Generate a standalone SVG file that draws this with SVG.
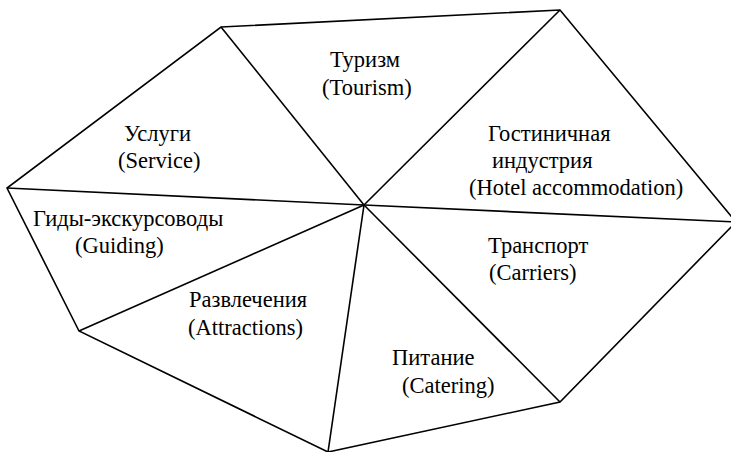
<svg xmlns="http://www.w3.org/2000/svg" width="731" height="452" viewBox="0 0 731 452">
<style>
.e{stroke:#000;stroke-width:1.6;fill:none;stroke-linejoin:miter}
.t text{font-size:22.5px;fill:#000}
</style>
<rect width="731" height="452" fill="#fff"/>
<g id="connectors">
<polygon class="e" points="221,27 560,10 736,222 560,402 328,452 79,331 7,188"/>
<line class="e" x1="364" y1="205" x2="221" y2="27"/>
<line class="e" x1="364" y1="205" x2="560" y2="10"/>
<line class="e" x1="364" y1="205" x2="736" y2="222"/>
<line class="e" x1="364" y1="205" x2="560" y2="402"/>
<line class="e" x1="364" y1="205" x2="328" y2="452"/>
<line class="e" x1="364" y1="205" x2="79" y2="331"/>
<line class="e" x1="364" y1="205" x2="7" y2="188"/>
</g>
<g class="t" font-family="'Liberation Serif', 'Times New Roman', serif">
<g id="tourism"><text x="330" y="67">Туризм</text><text x="322" y="95">(Tourism)</text></g>
<g id="service"><text x="124" y="141">Услуги</text><text x="118" y="168">(Service)</text></g>
<g id="hotel"><text x="488" y="141">Гостиничная</text><text x="492" y="168">индустрия</text><text x="469" y="195">(Hotel accommodation)</text></g>
<g id="guiding"><text x="33" y="226">Гиды-экскурсоводы</text><text x="75" y="253">(Guiding)</text></g>
<g id="carriers"><text x="488" y="253">Транспорт</text><text x="489" y="280">(Carriers)</text></g>
<g id="attractions"><text x="189" y="307">Развлечения</text><text x="188" y="335">(Attractions)</text></g>
<g id="catering"><text x="392" y="365">Питание</text><text x="402" y="393">(Catering)</text></g>
</g>
</svg>
